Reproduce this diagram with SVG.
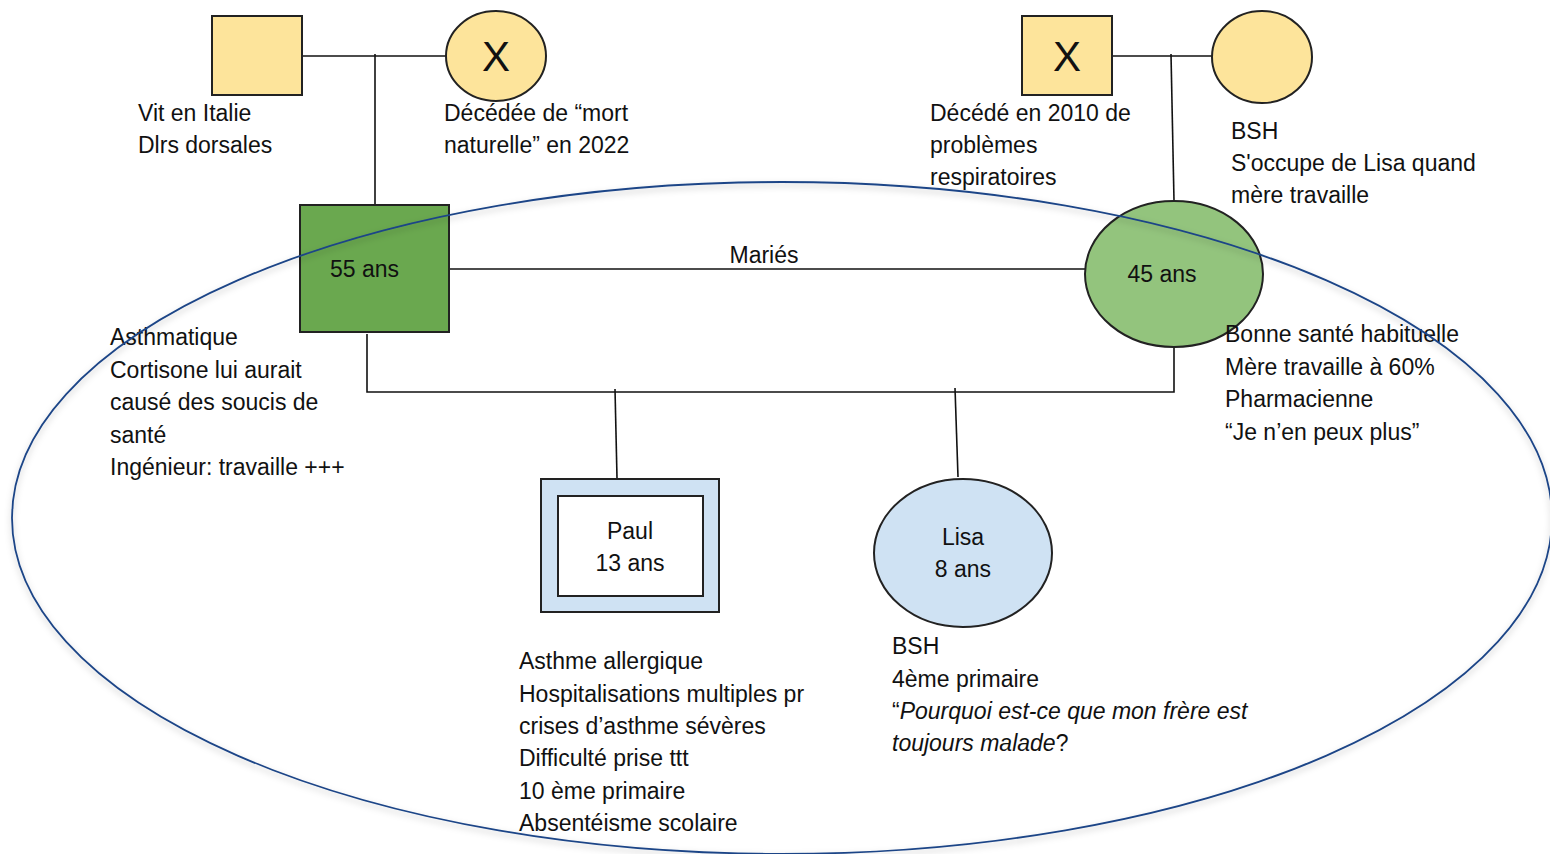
<svg xmlns="http://www.w3.org/2000/svg" width="1550" height="854" viewBox="0 0 1550 854">
<defs>
<style>
text{font-family:"Liberation Sans",Arial,sans-serif;font-size:23px;fill:#111}
.node{stroke:#222;stroke-width:2}
.conn{stroke:#111;stroke-width:1.6;fill:none}
.big{font-size:42px}
.mid{text-anchor:middle}
.it{font-style:italic}
</style>
<filter id="sh" x="-5%" y="-5%" width="110%" height="110%">
<feDropShadow dx="0" dy="3" stdDeviation="3" flood-color="#000" flood-opacity="0.25"/>
</filter>
</defs>
<rect width="1550" height="854" fill="#fff"/>
<g id="connectors">
<path class="conn" d="M302 56H446"/>
<path class="conn" d="M375 54V205"/>
<path class="conn" d="M1112 56H1212"/>
<path class="conn" d="M1171 54L1174 201"/>
<path class="conn" d="M449 269H1085"/>
<path class="conn" d="M367 334V392H1174V337"/>
<path class="conn" d="M615 389L617 478"/>
<path class="conn" d="M955 388L958 477"/>
<text class="mid" x="764" y="263">Mariés</text>
</g>
<g id="gf-paternal">
<rect class="node" x="212" y="16" width="90" height="79" fill="#fde49b"/>
<text x="138" y="121">Vit en Italie</text>
<text x="138" y="153">Dlrs dorsales</text>
</g>
<g id="gm-paternal">
<ellipse class="node" cx="496" cy="56" rx="50" ry="45" fill="#fde49b"/>
<text class="big mid" x="496" y="71">X</text>
<text x="444" y="121">Décédée de “mort</text>
<text x="444" y="153">naturelle” en 2022</text>
</g>
<g id="gf-maternal">
<rect class="node" x="1022" y="16" width="90" height="79" fill="#fde49b"/>
<text class="big mid" x="1067" y="71">X</text>
<text x="930" y="121">Décédé en 2010 de</text>
<text x="930" y="153">problèmes</text>
<text x="930" y="185">respiratoires</text>
</g>
<g id="gm-maternal">
<ellipse class="node" cx="1262" cy="57" rx="50" ry="46" fill="#fde49b"/>
<text x="1231" y="139">BSH</text>
<text x="1231" y="171">S'occupe de Lisa quand</text>
<text x="1231" y="203">mère travaille</text>
</g>
<g id="father">
<rect class="node" x="300" y="205" width="149" height="127" fill="#6aa84f"/>
<text x="330" y="277">55 ans</text>
<text x="110" y="345">Asthmatique</text>
<text x="110" y="378">Cortisone lui aurait</text>
<text x="110" y="410">causé des soucis de</text>
<text x="110" y="443">santé</text>
<text x="110" y="475">Ingénieur: travaille +++</text>
</g>
<g id="mother">
<ellipse class="node" cx="1174" cy="274" rx="89" ry="73" fill="#93c47d"/>
<text class="mid" x="1162" y="282">45 ans</text>
<text x="1225" y="342">Bonne santé habituelle</text>
<text x="1225" y="375">Mère travaille à 60%</text>
<text x="1225" y="407">Pharmacienne</text>
<text x="1225" y="440">“Je n’en peux plus”</text>
</g>
<g id="paul">
<rect class="node" x="541" y="479" width="178" height="133" fill="#cfe2f3"/>
<rect class="node" x="558" y="496" width="145" height="100" fill="#fff"/>
<text class="mid" x="630" y="539">Paul</text>
<text class="mid" x="630" y="571">13 ans</text>
<text x="519" y="669">Asthme allergique</text>
<text x="519" y="702">Hospitalisations multiples pr</text>
<text x="519" y="734">crises d’asthme sévères</text>
<text x="519" y="766">Difficulté prise ttt</text>
<text x="519" y="799">10 ème primaire</text>
<text x="519" y="831">Absentéisme scolaire</text>
</g>
<g id="lisa">
<ellipse class="node" cx="963" cy="553" rx="89" ry="74" fill="#cfe2f3"/>
<text class="mid" x="963" y="545">Lisa</text>
<text class="mid" x="963" y="577">8 ans</text>
<text x="892" y="654">BSH</text>
<text x="892" y="687">4ème primaire</text>
<text x="892" y="719">“<tspan class="it">Pourquoi est-ce que mon frère est</tspan></text>
<text x="892" y="751"><tspan class="it">toujours malade</tspan>?</text>
</g>
<g id="household">
<ellipse cx="782" cy="518" rx="770" ry="336" fill="none" stroke="#1c4587" stroke-width="1.8" filter="url(#sh)"/>
</g>
</svg>
